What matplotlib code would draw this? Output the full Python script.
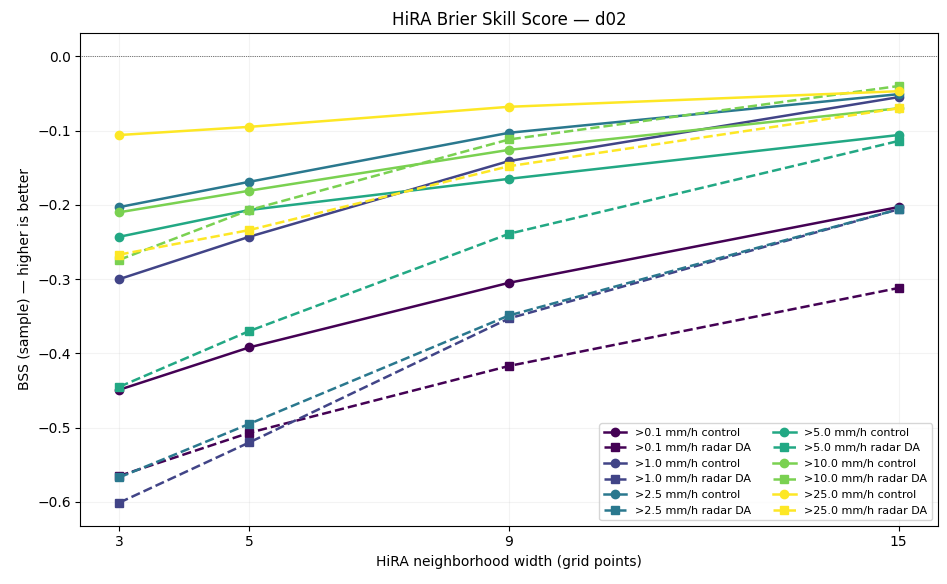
import numpy as np
import matplotlib.pyplot as plt

# HiRA neighborhood widths
widths = [3, 5, 9, 15]
thresholds = [">0.1", ">1.0", ">2.5", ">5.0", ">10.0", ">25.0"]

# BSS values
bss_control = [
    [-0.449, -0.392, -0.305, -0.203],
    [-0.300, -0.243, -0.141, -0.055],
    [-0.203, -0.169, -0.103, -0.051],
    [-0.243, -0.207, -0.165, -0.106],
    [-0.210, -0.181, -0.126, -0.070],
    [-0.106, -0.095, -0.068, -0.047],
]
bss_radar = [
    [-0.565, -0.507, -0.417, -0.312],
    [-0.601, -0.520, -0.353, -0.206],
    [-0.567, -0.495, -0.349, -0.206],
    [-0.445, -0.370, -0.239, -0.114],
    [-0.274, -0.207, -0.112, -0.040],
    [-0.267, -0.234, -0.148, -0.070],
]

colors = plt.cm.viridis(np.linspace(0, 1, len(thresholds)))

fig, ax = plt.subplots(figsize=(9.47, 5.84), dpi=100)

for i, thr in enumerate(thresholds):
    ax.plot(widths, bss_control[i], marker='o', ls='-', lw=1.8, ms=6,
            color=colors[i], label=f"{thr} mm/h control")
    ax.plot(widths, bss_radar[i], marker='s', ls='--', lw=1.8, ms=6,
            color=colors[i], label=f"{thr} mm/h radar DA")

ax.axhline(0, color='black', lw=0.5, ls=':')
ax.set_xticks(widths)
ax.set_xlim(2.4, 15.6)
ax.set_ylim(-0.632, 0.031)
ax.grid(True, alpha=0.15)
ax.set_title("HiRA Brier Skill Score — d02")
ax.set_xlabel("HiRA neighborhood width (grid points)")
ax.set_ylabel("BSS (sample) — higher is better")
ax.legend(ncol=2, fontsize=8, loc='lower right')

fig.subplots_adjust(left=0.085, right=0.99, top=0.943, bottom=0.1)
fig.savefig("out.png", dpi=100)
